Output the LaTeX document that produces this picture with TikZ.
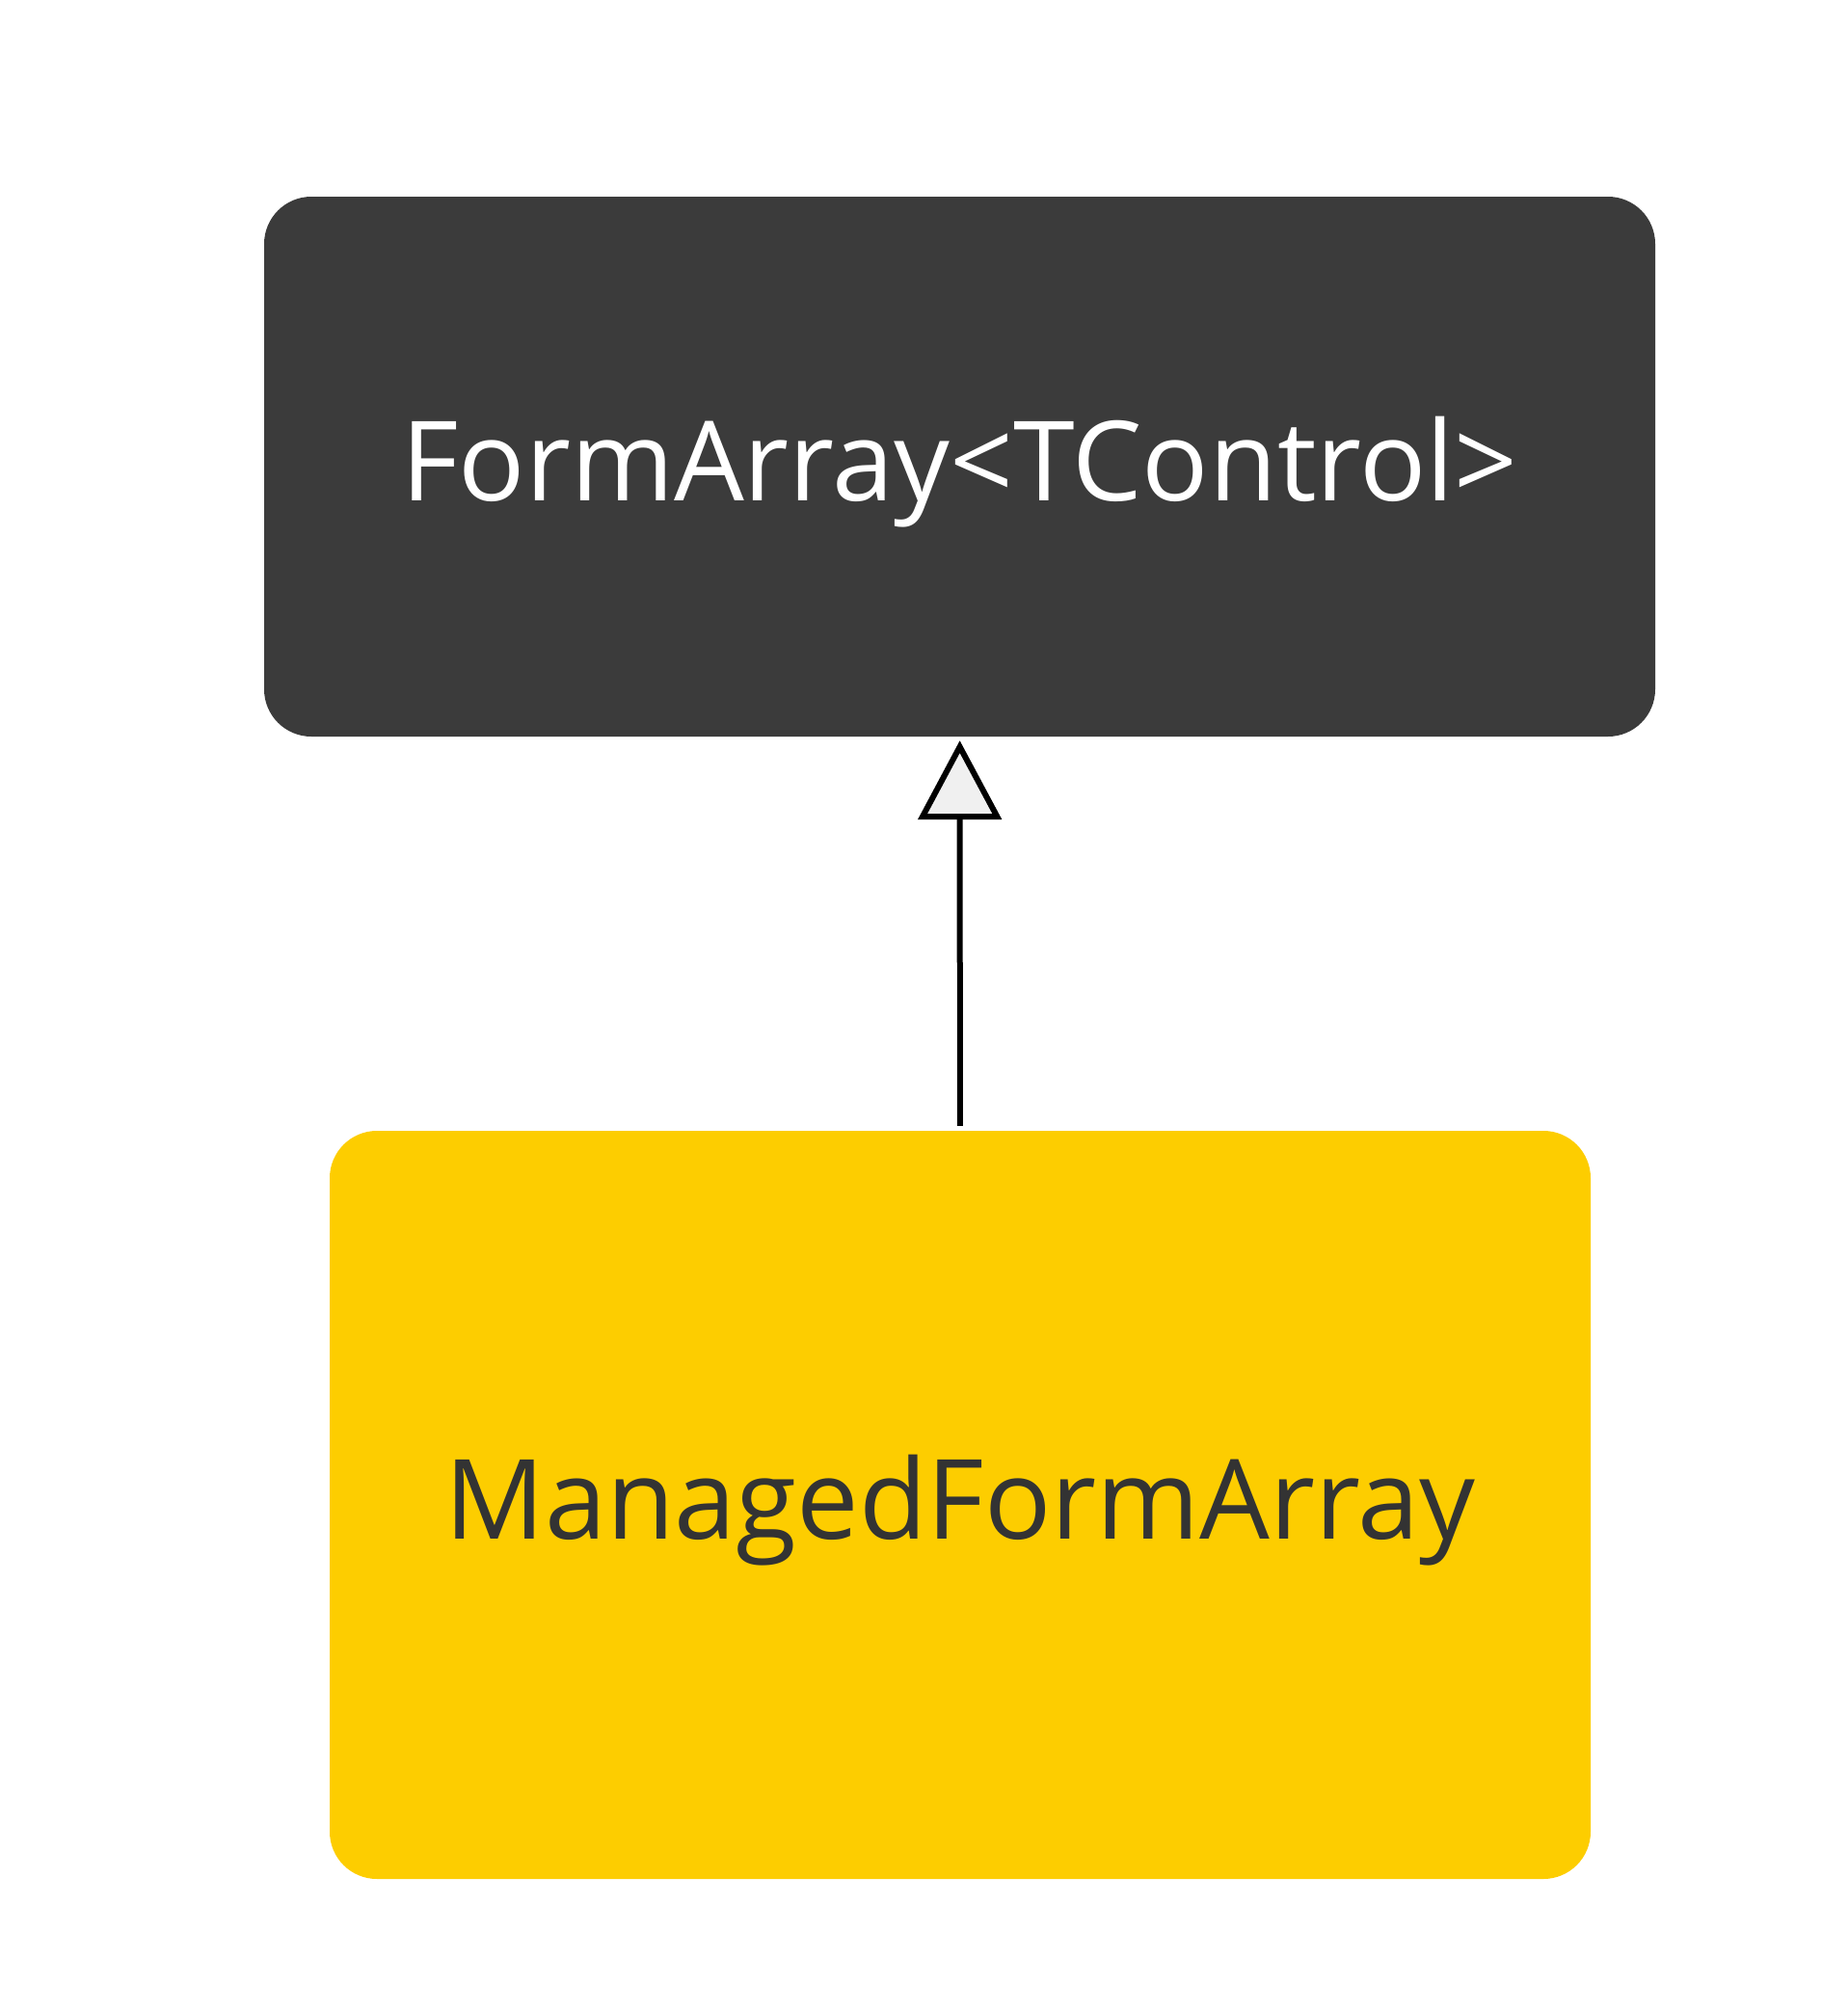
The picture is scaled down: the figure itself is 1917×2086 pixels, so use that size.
\documentclass[tikz,border=0pt]{standalone}
\usepackage{fontspec}
\setmainfont{Open Sans}
\usepackage{tikz}
\usetikzlibrary{arrows.meta,shapes}
\definecolor{boxdark}{HTML}{3B3B3B}
\definecolor{boxyellow}{HTML}{FDCD00}
\definecolor{textdark}{HTML}{333333}
\definecolor{tipfill}{HTML}{F0F0F0}
\tikzstyle{classbox}=[rectangle,rounded corners=49pt,inner sep=0pt,text height=90pt,text depth=20pt,font=\fontsize{115}{135}\selectfont]
\tikzstyle{parent}=[classbox,fill=boxdark,text=white,minimum width=1443pt,minimum height=560pt]
\tikzstyle{child}=[classbox,fill=boxyellow,text=textdark,minimum width=1308pt,minimum height=776pt]
\tikzstyle{edge} = [draw,line width=6pt,-{Triangle[length=82pt,width=86pt,fill=tipfill]}]

\begin{document}
\begin{tikzpicture}[x=1pt,y=-1pt]
    \useasboundingbox (0,0) rectangle (1917,2086);
    % the two classes
    \node[parent] (FormArray) at (995.5,484) {FormArray<TControl>};
    \node[child] (ManagedFormArray) at (996,1561) {ManagedFormArray};
    % inheritance
    \path[edge,shorten <=5pt,shorten >=4pt] (ManagedFormArray) -- (FormArray);
\end{tikzpicture}
\end{document}
